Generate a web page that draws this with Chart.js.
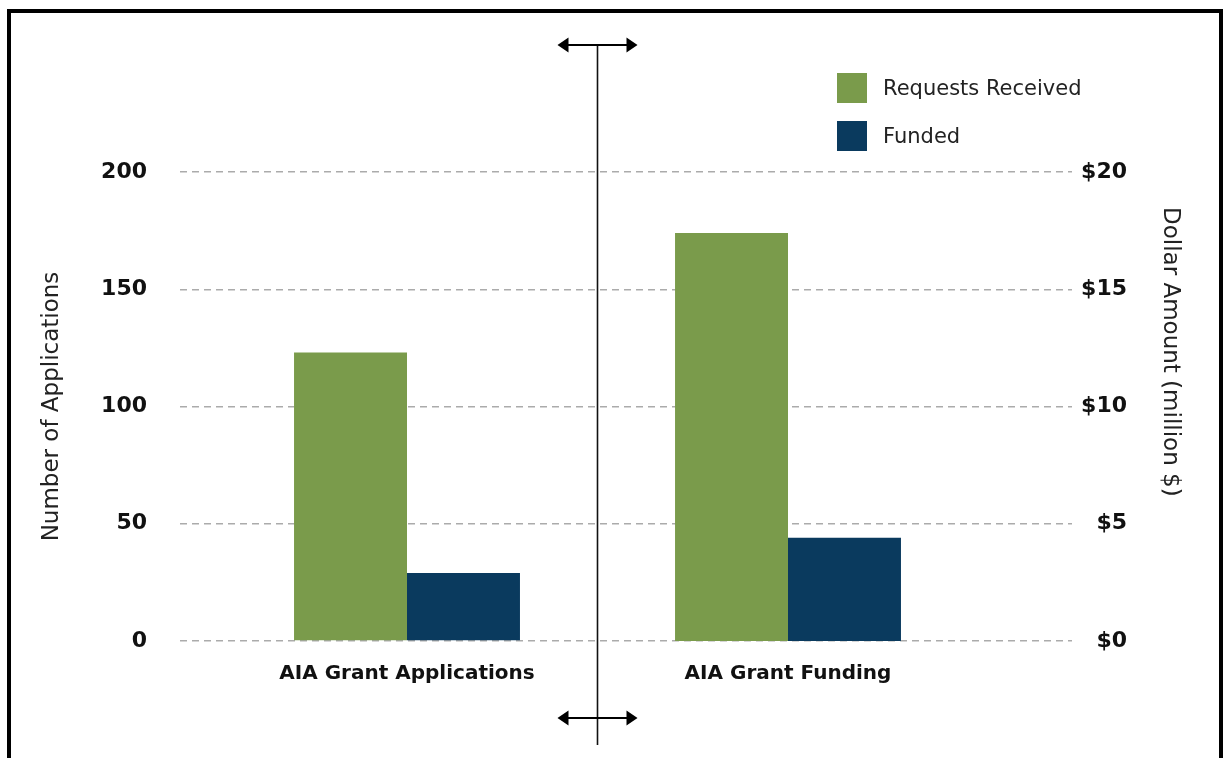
<!DOCTYPE html>
<html>
<head>
<meta charset="utf-8">
<script src="https://cdn.jsdelivr.net/npm/chart.js@4/dist/chart.umd.min.js"></script>
<style>
  html, body { margin: 0; padding: 0; background: #fff; overflow: hidden; }
  body { width: 1225px; height: 758px; position: relative; }
  #frame { position: absolute; left: 7px; top: 9px; width: 1208px; height: 800px;
           border-top: 4px solid #000; border-left: 4px solid #000; border-right: 4px solid #000; }
  #chart { position: absolute; left: 0; top: 0; }
  #legend { position: absolute; left: 837px; top: 73px; font-family: "DejaVu Sans", sans-serif;
            font-size: 21px; color: #222; }
  .item { display: flex; align-items: center; height: 30px; margin-bottom: 18px; }
  .sw { width: 30px; height: 30px; margin-right: 16px; }
</style>
</head>
<body>
<div id="frame"></div>
<canvas id="chart" width="1225" height="758"></canvas>
<div id="legend"></div>
<script>
// ---- data ----
const categories = ['AIA Grant Applications', 'AIA Grant Funding'];
const seriesNames = ['Requests Received', 'Funded'];
const applicationCounts = [123, 29];      // Requests Received, Funded (number of applications)
const fundingMillions = [17.4, 4.4];      // Requests Received, Funded (million $)
const leftTickValues = [0, 50, 100, 150, 200];
const rightTickValues = [0, 5, 10, 15, 20];
const leftTitle = 'Number of Applications';
const rightTitle = 'Dollar Amount (million $)';
const seriesColors = ['#7A9B4B', '#0A3A5E'];

const FONT = '"DejaVu Sans", sans-serif';
const categoryPositions = categories.map((c, i) => i);

function pointsFor(catIndex, value) {
  return categoryPositions.map(p => ({ x: p, y: p === catIndex ? value : null }));
}

const datasets = [
  { label: seriesNames[0], data: pointsFor(0, applicationCounts[0]), yAxisID: 'y', backgroundColor: seriesColors[0] },
  { label: seriesNames[1], data: pointsFor(0, applicationCounts[1]), yAxisID: 'y', backgroundColor: seriesColors[1] },
  { label: seriesNames[0], data: pointsFor(1, fundingMillions[0]), yAxisID: 'y2', backgroundColor: seriesColors[0] },
  { label: seriesNames[1], data: pointsFor(1, fundingMillions[1]), yAxisID: 'y2', backgroundColor: seriesColors[1] }
].map(d => Object.assign(d, { skipNull: true, categoryPercentage: 0.593, barPercentage: 1.0, borderWidth: 0 }));

// HTML legend
const legendEl = document.getElementById('legend');
seriesNames.forEach((n, i) => {
  const it = document.createElement('div');
  it.className = 'item';
  it.innerHTML = '<div class="sw" style="background:' + seriesColors[i] + '"></div><span>' + n + '</span>';
  legendEl.appendChild(it);
});

// divider with arrows + right axis title
const decorPlugin = {
  id: 'decor',
  afterDraw(chart) {
    const { ctx, chartArea } = chart;
    const xs = chart.scales.x;
    const xc = Math.round(xs.getPixelForValue((categoryPositions[0] + categoryPositions[1]) / 2)) - 0.5;
    const yTop = chartArea.top - 127;
    const yBot = chartArea.bottom + 104;
    const yArrowTop = yTop;
    const yArrowBot = chartArea.bottom + 77;
    ctx.save();
    ctx.strokeStyle = '#111';
    ctx.lineWidth = 1.6;
    ctx.beginPath();
    ctx.moveTo(xc, yTop);
    ctx.lineTo(xc, yBot);
    ctx.stroke();
    [yArrowTop, yArrowBot].forEach(y => {
      ctx.lineWidth = 2;
      ctx.strokeStyle = '#000';
      ctx.fillStyle = '#000';
      ctx.beginPath();
      ctx.moveTo(xc - 34, y);
      ctx.lineTo(xc + 34, y);
      ctx.stroke();
      ctx.beginPath();
      ctx.moveTo(xc - 40, y); ctx.lineTo(xc - 29, y - 7.5); ctx.lineTo(xc - 29, y + 7.5); ctx.closePath(); ctx.fill();
      ctx.beginPath();
      ctx.moveTo(xc + 40, y); ctx.lineTo(xc + 29, y - 7.5); ctx.lineTo(xc + 29, y + 7.5); ctx.closePath(); ctx.fill();
    });
    // right axis title
    ctx.translate(chartArea.right + 98, chartArea.top + 35);
    ctx.rotate(Math.PI / 2);
    ctx.font = '23px ' + FONT;
    ctx.fillStyle = '#222';
    ctx.textAlign = 'left';
    ctx.textBaseline = 'middle';
    ctx.fillText(rightTitle, 0, 0);
    ctx.restore();
  }
};

new Chart(document.getElementById('chart'), {
  type: 'bar',
  data: { datasets },
  plugins: [decorPlugin],
  options: {
    responsive: false,
    animation: false,
    devicePixelRatio: 1,
    layout: { padding: { left: 38, right: 98, top: 172, bottom: 72 } },
    plugins: { legend: { display: false }, tooltip: { enabled: false } },
    scales: {
      x: {
        type: 'linear',
        offset: false,
        min: -0.5958,
        max: 1.7454,
        grid: { display: false, offset: false },
        border: { display: false },
        afterBuildTicks(scale) { scale.ticks = categoryPositions.map(v => ({ value: v })); },
        afterFit(scale) { scale.height = 45; },
        ticks: {
          autoSkip: false, maxRotation: 0, padding: 13, color: '#111',
          font: { family: FONT, size: 20, weight: 'bold' },
          callback: v => categories[v]
        }
      },
      y: {
        position: 'left',
        min: 0, max: 200,
        z: 1,
        afterBuildTicks(scale) { scale.ticks = leftTickValues.map(v => ({ value: v })); },
        afterFit(scale) { scale.width = 142; },
        grid: { color: '#ababab', lineWidth: 1.5, drawTicks: false },
        border: { display: false, dash: [7, 5] },
        ticks: { padding: 33, color: '#111', font: { family: FONT, size: 22, weight: 'bold' } },
        title: { display: true, text: leftTitle, color: '#222', font: { family: FONT, size: 23 }, padding: { top: 0, bottom: 0 } }
      },
      y2: {
        position: 'right',
        min: 0, max: 20,
        afterBuildTicks(scale) { scale.ticks = rightTickValues.map(v => ({ value: v })); },
        afterFit(scale) { scale.width = 55; },
        grid: { display: false, drawTicks: false },
        border: { display: false },
        ticks: { padding: 9, crossAlign: 'far', color: '#111', font: { family: FONT, size: 22, weight: 'bold' },
                 callback: v => '$' + v }
      }
    }
  }
});
</script>
</body>
</html>
